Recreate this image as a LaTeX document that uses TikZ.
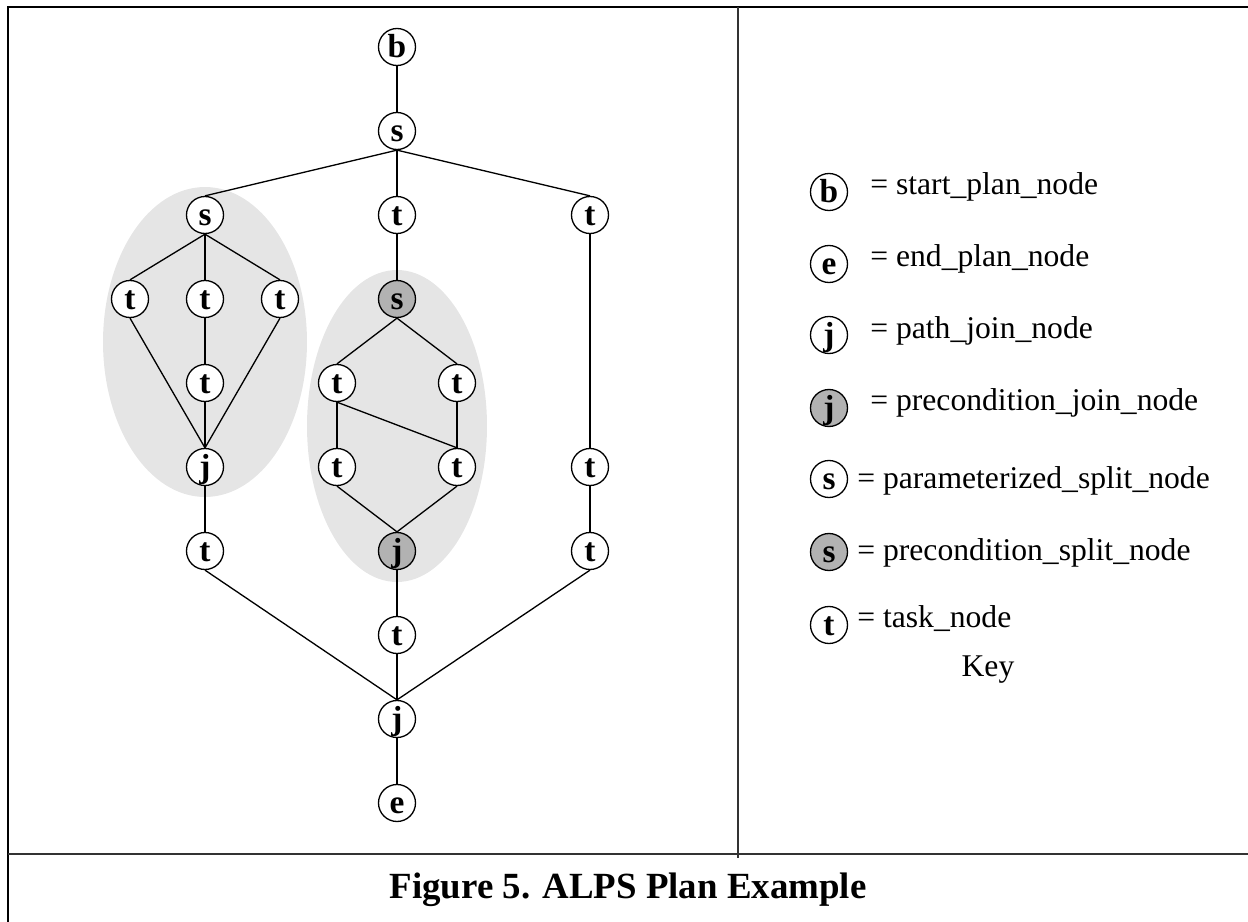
\documentclass[tikz,border=0pt]{standalone}
\usepackage{fontspec}
\setmainfont{Liberation Serif}
\tikzset{
  pnode/.style={circle, draw, line width=0.75pt, minimum size=0.74cm, inner sep=0pt, fill=white, text height=12pt, text depth=0.6pt, font=\fontsize{19}{19}\selectfont\bfseries},
  pcnode/.style={pnode, fill=black!30},
  region/.style={fill=black!10},
  edge/.style={line width=0.75pt},
  keytext/.style={anchor=base west, inner sep=0pt, font=\fontsize{18}{18}\selectfont},
}
\begin{document}
\begin{tikzpicture}[x=0.02cm, y=-0.02cm]
  \useasboundingbox (0,0) rectangle (1248,922);
  \fill[region] (205,342) ellipse [x radius=2.04cm, y radius=3.1cm];
  \fill[region] (397,426) ellipse [x radius=1.8cm, y radius=3.12cm];

  \node[pnode] (b) at (397,47) {b};
  \node[pnode] (s0) at (397,131) {s};
  \node[pnode] (s1) at (205,215) {s};
  \node[pnode] (ta) at (397,215) {t};
  \node[pnode] (tb) at (590,215) {t};
  \node[pnode] (t11) at (130,299) {t};
  \node[pnode] (t12) at (205,299) {t};
  \node[pnode] (t13) at (280,299) {t};
  \node[pnode] (t14) at (205,383) {t};
  \node[pnode] (j1) at (205,467) {j};
  \node[pnode] (t15) at (205,551) {t};
  \node[pcnode] (s2) at (397,299) {s};
  \node[pnode] (t21) at (337,383) {t};
  \node[pnode] (t22) at (457,383) {t};
  \node[pnode] (t23) at (337,467) {t};
  \node[pnode] (t24) at (457,467) {t};
  \node[pcnode] (j2) at (397,551) {j};
  \node[pnode] (t25) at (397,635) {t};
  \node[pnode] (t31) at (590,467) {t};
  \node[pnode] (t32) at (590,551) {t};
  \node[pnode] (j3) at (397,719) {j};
  \node[pnode] (e) at (397,803) {e};

  \draw[edge] (b.south) -- (s0.north);
  \draw[edge] (s0.south) -- (s1.north);
  \draw[edge] (s0.south) -- (ta.north);
  \draw[edge] (s0.south) -- (tb.north);
  \draw[edge] (s1.south) -- (t11.north);
  \draw[edge] (s1.south) -- (t12.north);
  \draw[edge] (s1.south) -- (t13.north);
  \draw[edge] (t12.south) -- (t14.north);
  \draw[edge] (t11.south) -- (j1.north) -- (t13.south);
  \draw[edge] (t14.south) -- (j1.north);
  \draw[edge] (j1.south) -- (t15.north);
  \draw[edge] (t15.south) -- (j3.north);
  \draw[edge] (ta.south) -- (s2.north);
  \draw[edge] (t21.north) -- (s2.south) -- (t22.north);
  \draw[edge] (t21.south) -- (t23.north);
  \draw[edge] (t21.south) -- (t24.north);
  \draw[edge] (t22.south) -- (t24.north);
  \draw[edge] (t23.south) -- (j2.north) -- (t24.south);
  \draw[edge] (j2.south) -- (t25.north);
  \draw[edge] (t25.south) -- (j3.north);
  \draw[edge] (tb.south) -- (t31.north);
  \draw[edge] (t31.south) -- (t32.north);
  \draw[edge] (t32.south) -- (j3.north);
  \draw[edge] (j3.south) -- (e.north);

  \node[pnode] (kb) at (829,192) {b};
  \node[keytext] (kbt) at (870,195) {= start\_plan\_node};
  \node[pnode] (ke) at (829,264) {e};
  \node[keytext] (ket) at (870,267) {= end\_plan\_node};
  \node[pnode] (kj) at (829,335) {j};
  \node[keytext] (kjt) at (870,338) {= path\_join\_node};
  \node[pcnode] (kpj) at (829,408) {j};
  \node[keytext] (kpjt) at (870,410) {= precondition\_join\_node};
  \node[pnode] (ks) at (829,479) {s};
  \node[keytext] (kst) at (857,488) {= parameterized\_split\_node};
  \node[pcnode] (kps) at (829,552) {s};
  \node[keytext] (kpst) at (857,560) {= precondition\_split\_node};
  \node[pnode] (kt) at (829,625) {t};
  \node[keytext] (ktt) at (857,627) {= task\_node};
  \node[keytext, anchor=base] (key) at (988,676) {Key};

  \draw[line width=1.7pt] (8,922) -- (8,7) -- (1248,7);
  \draw[line width=1.1pt, black!80] (8,854) -- (1248,854);
  \draw[line width=1.1pt, black!80] (738,7) -- (738,858);
  \node[anchor=base, inner sep=0pt, font=\fontsize{21}{21}\selectfont\bfseries] (caption) at (628,898) {Figure 5. ALPS Plan Example};
\end{tikzpicture}
\end{document}
